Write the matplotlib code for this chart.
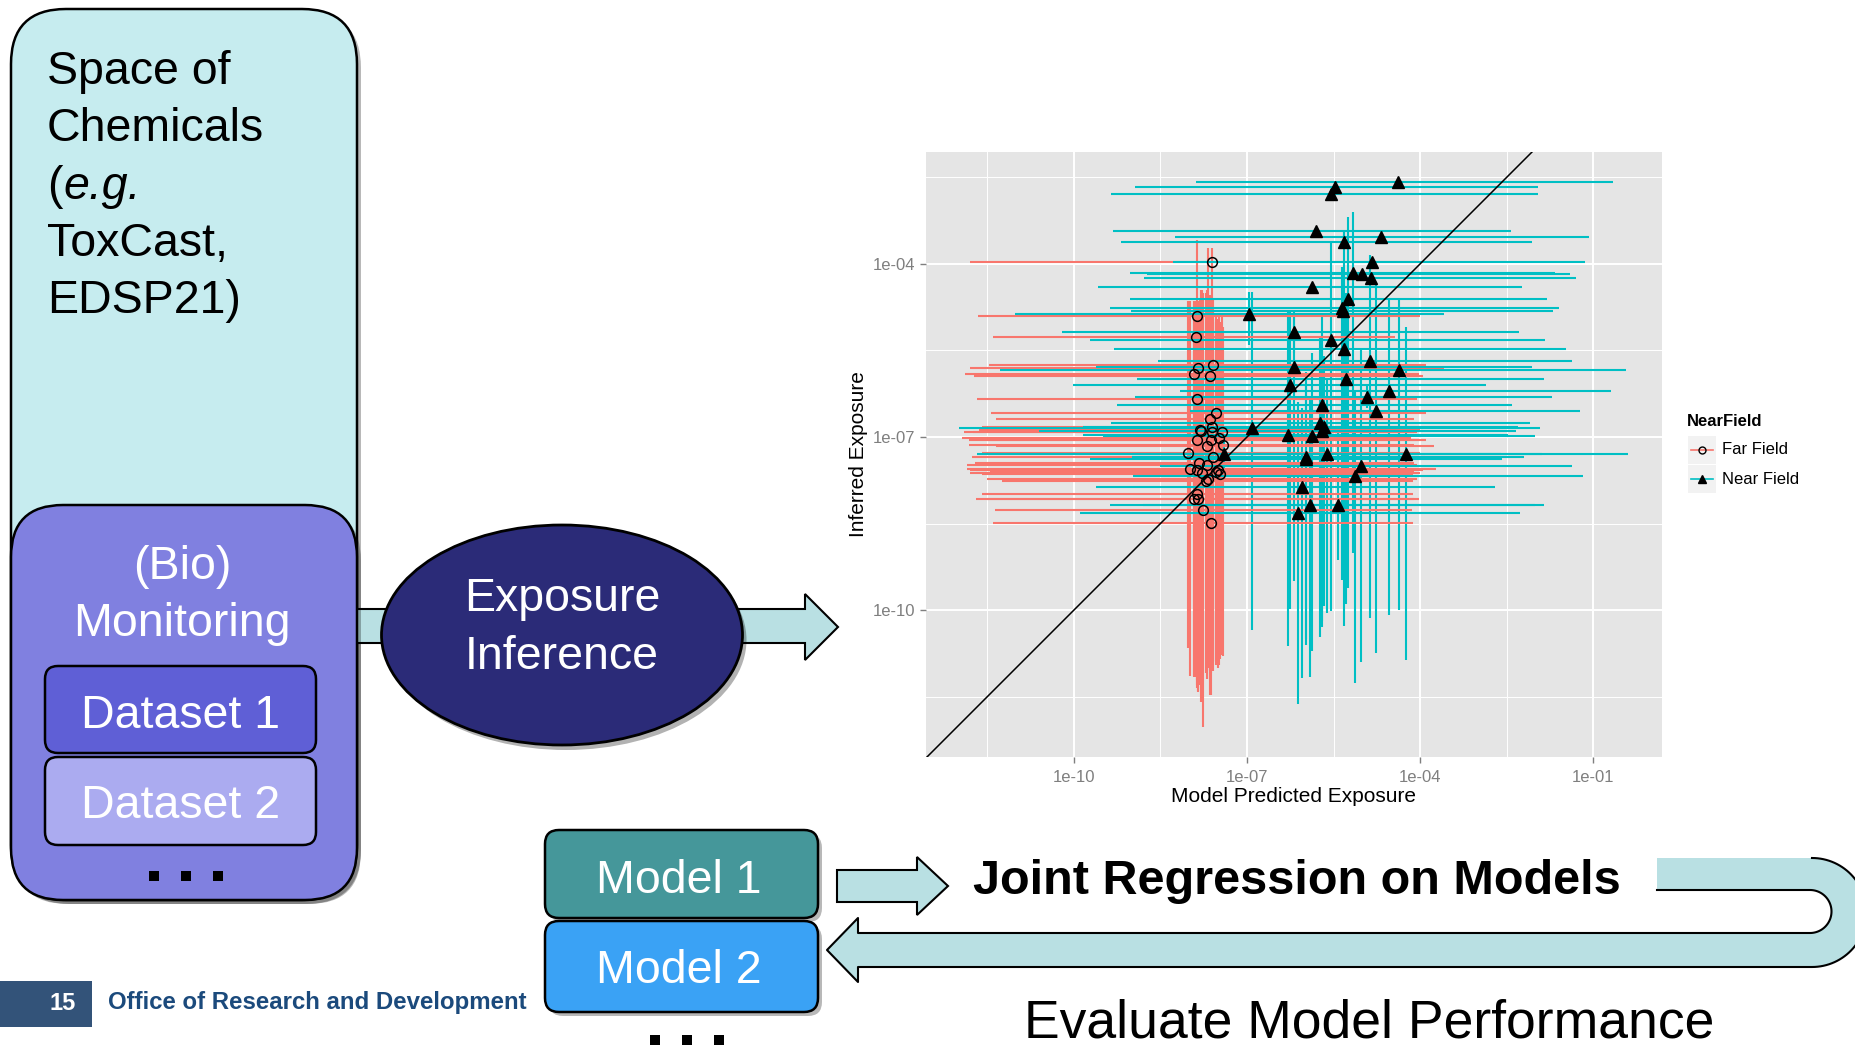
import numpy as np
import matplotlib
matplotlib.use("Agg")
import matplotlib.pyplot as plt
from matplotlib.patches import FancyBboxPatch, Ellipse, Polygon, Rectangle
from matplotlib.lines import Line2D
import matplotlib.ticker as mticker

plt.rcParams["font.family"] = ["Liberation Sans", "DejaVu Sans"]

# ---- exposure data: log10 values (point, lower / upper interval bounds) ----
far_x = [-7.60, -7.87, -7.88, -7.85, -7.59, -7.92, -7.64, -7.86, -7.53, -7.64,
         -7.61, -7.79, -7.61, -7.44, -7.86, -7.63, -7.49, -7.70, -7.41, -8.02,
         -7.59, -7.83, -7.69, -7.98, -7.86, -7.78, -7.54, -7.50, -7.47, -7.71,
         -7.67, -7.87, -7.92, -7.85, -7.76, -7.63, -7.82]
far_y = [-3.97, -4.91, -5.26, -5.80, -5.76, -5.91, -5.95, -6.34, -6.59, -6.69,
         -6.83, -6.89, -6.92, -6.91, -7.05, -7.05, -7.02, -7.16, -7.14, -7.28,
         -7.35, -7.45, -7.48, -7.55, -7.58, -7.63, -7.61, -7.58, -7.64, -7.77,
         -7.73, -7.98, -8.07, -8.07, -8.26, -8.49, -6.87]
far_xlo = [-11.80, -11.67, -11.40, -11.80, -11.47, -11.89, -11.73, -11.69, -11.44, -11.35,
           -11.60, -11.51, -11.90, -11.75, -11.82, -11.50, -11.95, -11.35, -11.82, -11.60,
           -11.77, -11.72, -11.85, -11.86, -11.80, -11.80, -11.45, -11.70, -11.60, -11.24,
           -11.50, -11.59, -11.51, -11.70, -11.37, -11.41, -11.65]
far_xhi = [-4.00, -4.00, -4.44, -3.59, -3.90, -4.02, -3.95, -4.05, -3.89, -4.10,
           -4.00, -3.95, -4.10, -4.05, -4.00, -3.90, -4.15, -3.75, -4.10, -4.00,
           -3.92, -4.10, -4.05, -3.72, -3.95, -4.00, -4.10, -4.20, -4.12, -4.12,
           -4.05, -4.13, -4.02, -4.10, -4.14, -4.13, -4.00]
far_ylo = [-11.00, -11.22, -11.17, -11.43, -11.05, -11.14, -11.48, -10.90, -10.88, -11.20,
           -11.05, -11.60, -10.90, -10.78, -11.00, -11.10, -10.95, -11.05, -10.79, -10.66,
           -10.90, -11.30, -11.20, -11.14, -11.30, -11.50, -10.95, -11.00, -10.85, -11.10,
           -11.00, -11.35, -11.17, -11.40, -12.03, -11.48, -11.30]
far_yhi = [-3.72, -3.59, -4.65, -4.66, -4.62, -4.65, -4.53, -4.70, -4.91, -4.80,
           -4.90, -4.45, -5.00, -4.91, -4.80, -4.70, -4.91, -4.45, -5.10, -4.65,
           -4.95, -4.65, -4.55, -4.65, -4.75, -4.45, -5.00, -4.95, -5.00, -4.50,
           -3.72, -4.80, -4.70, -4.80, -4.50, -4.60, -4.60]

near_x = [-4.38, -5.47, -5.55, -5.81, -4.67, -5.32, -4.83, -5.16, -5.00, -4.85,
          -5.87, -5.25, -5.35, -5.33, -6.97, -6.18, -5.55, -5.32, -4.86, -6.19,
          -4.37, -5.29, -6.25, -4.54, -4.92, -5.70, -4.77, -5.73, -6.91, -5.67,
          -5.70, -6.29, -5.88, -7.40, -5.62, -4.25, -5.97, -5.97, -5.03, -5.12,
          -6.04, -5.90, -5.43, -6.11]
near_y = [-2.58, -2.67, -2.79, -3.43, -3.53, -3.62, -3.96, -4.15, -4.17, -4.25,
          -4.40, -4.60, -4.76, -4.82, -4.87, -5.18, -5.31, -5.47, -5.68, -5.78,
          -5.84, -6.00, -6.09, -6.21, -6.30, -6.45, -6.55, -6.75, -6.84, -6.82,
          -6.90, -6.97, -6.99, -7.29, -7.29, -7.29, -7.35, -7.39, -7.50, -7.67,
          -7.87, -8.18, -8.18, -8.31]
near_xlo = [-7.89, -8.94, -9.36, -9.32, -8.25, -9.19, -8.28, -9.03, -8.73, -8.79,
            -9.58, -9.03, -9.38, -9.02, -11.02, -10.20, -9.72, -9.31, -8.55, -9.62,
            -11.28, -8.90, -10.02, -8.16, -8.94, -9.25, -7.99, -9.36, -11.99, -9.84,
            -10.61, -9.84, -9.50, -11.69, -9.00, -8.50, -9.00, -9.72, -8.51, -8.98,
            -9.61, -9.38, -8.80, -9.90]
near_xhi = [-0.66, -1.96, -1.95, -2.43, -1.07, -2.05, -1.14, -1.66, -1.40, -1.30,
            -2.24, -1.79, -1.59, -1.70, -3.59, -2.29, -1.84, -1.46, -1.37, -2.06,
            -0.43, -1.85, -2.85, -0.68, -1.72, -2.41, -1.23, -2.10, -1.92, -2.30,
            -2.33, -2.48, -2.00, -2.60, -1.89, -0.40, -2.20, -2.58, -1.37, -1.18,
            -2.70, -1.85, -2.00, -2.26]
near_ylo = [-2.62, -2.72, -2.85, -3.48, -3.58, -3.72, -4.02, -9.02, -4.25, -4.32,
            -4.46, -9.62, -9.48, -9.30, -5.40, -5.55, -10.02, -10.27, -10.14, -9.50,
            -10.00, -9.90, -9.98, -10.09, -6.50, -10.19, -10.74, -10.47, -10.34, -9.93,
            -10.29, -10.62, -10.71, -7.60, -10.05, -10.87, -10.60, -10.50, -10.91, -11.26,
            -11.18, -11.16, -9.13, -11.63]
near_yhi = [-2.54, -2.62, -2.74, -3.38, -3.48, -3.41, -3.90, -3.10, -4.10, -4.18,
            -4.34, -3.19, -4.05, -4.20, -4.48, -4.90, -3.64, -3.41, -3.84, -4.79,
            -4.63, -4.50, -4.79, -4.59, -6.10, -5.40, -4.34, -5.25, -4.48, -5.60,
            -4.91, -4.79, -5.54, -7.00, -6.00, -5.09, -5.88, -6.10, -5.48, -6.20,
            -6.50, -6.30, -6.90, -6.40]

x_tick_exp = [-10, -7, -4, -1]
x_tick_labels = ["1e-10", "1e-07", "1e-04", "1e-01"]
y_tick_exp = [-10, -7, -4]
y_tick_labels = ["1e-10", "1e-07", "1e-04"]
minor_exp = [-11.5, -8.5, -5.5, -2.5]
group_labels = ["Far Field", "Near Field"]

RED = "#F8766D"
TEAL = "#00BFC4"

W, H = 1856, 1049
fig = plt.figure(figsize=(W / 100, H / 100), dpi=100, facecolor="white")

# ---------------- slide canvas in pixel units ----------------
bg = fig.add_axes([0, 0, 1, 1])
bg.set_xlim(0, W)
bg.set_ylim(H, 0)
bg.axis("off")


def rbox(x0, y0, x1, y1, r, fc, z, lw=1.8, shadow=True):
    if shadow:
        bg.add_patch(FancyBboxPatch((x0 + 4, y0 + 4), x1 - x0, y1 - y0,
                                    boxstyle=f"round,pad=0,rounding_size={r}",
                                    fc="black", ec="none", alpha=0.28, zorder=z - 0.05))
    bg.add_patch(FancyBboxPatch((x0, y0), x1 - x0, y1 - y0,
                                boxstyle=f"round,pad=0,rounding_size={r}",
                                fc=fc, ec="black", lw=lw, zorder=z))


def squares(xs, y, s=10, z=5):
    for x in xs:
        bg.add_patch(Rectangle((x - s / 2, y - s / 2), s, s, fc="black", ec="none", zorder=z))


BOX_FS = 33.5

# Space of chemicals
rbox(11, 9, 357, 900, 55, "#C6ECEF", 1)
bg.text(47, 84, "Space of", fontsize=BOX_FS, va="baseline", ha="left", zorder=2)
bg.text(47, 141, "Chemicals", fontsize=BOX_FS, va="baseline", ha="left", zorder=2)
bg.text(47, 199, "(", fontsize=BOX_FS, va="baseline", ha="left", zorder=2)
bg.text(63, 199, "e.g.", fontsize=BOX_FS, style="italic", va="baseline", ha="left", zorder=2)
bg.text(47, 256, "ToxCast,", fontsize=BOX_FS, va="baseline", ha="left", zorder=2)
bg.text(47, 313, "EDSP21)", fontsize=BOX_FS, va="baseline", ha="left", zorder=2)

# (Bio) Monitoring block
rbox(11, 505, 357, 900, 52, "#8080E0", 3)
bg.text(182, 579, "(Bio)", fontsize=BOX_FS, color="white", ha="center", va="baseline", zorder=4)
bg.text(182, 636, "Monitoring", fontsize=BOX_FS, color="white", ha="center", va="baseline", zorder=4)
rbox(45, 666, 316, 753, 13, "#5F5FD6", 4, shadow=False)
bg.text(181, 728, "Dataset 1", fontsize=BOX_FS, color="white", ha="center", va="baseline", zorder=5)
rbox(45, 757, 316, 845, 13, "#ABABF0", 4, shadow=False)
bg.text(181, 818, "Dataset 2", fontsize=BOX_FS, color="white", ha="center", va="baseline", zorder=5)
squares([154, 186, 218], 876)

# Arrow through the Exposure Inference ellipse
bg.add_patch(Polygon([(356, 609), (805, 609), (805, 594), (838, 627), (805, 660), (805, 643), (356, 643)],
                     closed=True, fc="#B9E0E3", ec="black", lw=1.5, zorder=2))
bg.add_patch(Ellipse((566, 640), 361, 220, fc="black", ec="none", alpha=0.3, zorder=2.5))
bg.add_patch(Ellipse((562, 635), 361, 220, fc="#2B2B78", ec="black", lw=2, zorder=3))
bg.text(562, 611, "Exposure", fontsize=BOX_FS, color="white", ha="center", va="baseline", zorder=4)
bg.text(562, 669, "Inference", fontsize=BOX_FS, color="white", ha="center", va="baseline", zorder=4)

# Model blocks
rbox(545, 830, 818, 918, 14, "#45979A", 3)
bg.text(679, 893, "Model 1", fontsize=BOX_FS, color="white", ha="center", va="baseline", zorder=4)
rbox(545, 921, 818, 1012, 14, "#3AA2F5", 3)
bg.text(679, 983, "Model 2", fontsize=BOX_FS, color="white", ha="center", va="baseline", zorder=4)
squares([655, 687, 719], 1040)

# Arrow from models to joint regression
bg.add_patch(Polygon([(837, 870), (917, 870), (917, 857), (948, 886), (917, 915), (917, 902), (837, 902)],
                     closed=True, fc="#B9E0E3", ec="black", lw=1.5, zorder=2))

# U-turn arrow returning to the models
t_out = np.linspace(-np.pi / 2, np.pi / 2, 60)
outer = [(1812 + 54.5 * np.cos(t), 912.5 + 54.5 * np.sin(t)) for t in t_out]
inner = [(1810 + 21.5 * np.cos(t), 911.5 + 21.5 * np.sin(t)) for t in t_out[::-1]]
u_verts = ([(1657, 858)] + outer +
           [(858, 967), (858, 982), (827, 950), (858, 918), (858, 933)] +
           inner + [(1657, 890)])
bg.add_patch(Polygon(u_verts, closed=True, fc="#B9E0E3", ec="none", zorder=2))
ux, uy = zip(*u_verts[1:])
bg.add_line(Line2D(ux, uy, color="black", lw=1.5, zorder=2.1))

bg.text(1297, 894, "Joint Regression on Models", fontsize=35, fontweight="bold",
        ha="center", va="baseline", zorder=4)
bg.text(1369, 1037, "Evaluate Model Performance", fontsize=38.5,
        ha="center", va="baseline", zorder=4)

# Footer
bg.add_patch(Rectangle((0, 981), 92, 46, fc="#335379", ec="none", zorder=2))
bg.text(63, 1004, "15", fontsize=17, fontweight="bold", color="white", ha="center", va="center", zorder=3)
bg.text(108, 1003, "Office of Research and Development", fontsize=17.3, fontweight="bold",
        color="#1B4A7C", ha="left", va="center", zorder=3)

# Legend of the exposure chart
bg.text(1687, 421, "NearField", fontsize=12, fontweight="bold", ha="left", va="center")
for yc, col, mk, ms, mfc, lab in [(450, RED, "o", 5, "none", group_labels[0]),
                                  (479, TEAL, "^", 6, "black", group_labels[1])]:
    bg.add_patch(Rectangle((1688, yc - 14), 28, 28, fc="#F2F2F2", ec="none"))
    bg.plot([1691, 1713], [yc, yc], color=col, lw=1.2)
    bg.plot([1702], [yc], marker=mk, ms=ms, mfc=mfc, mec="black", mew=1.0, color="black")
    bg.text(1722, yc, lab, fontsize=12, ha="left", va="center")

# ---------------- exposure chart ----------------
L, R, T, B = 926, 1662, 152, 757
ax = fig.add_axes([L / W, 1 - B / H, (R - L) / W, (B - T) / H])
ax.set_facecolor("#E5E5E5")
ax.set_xscale("log")
ax.set_yscale("log")

p = lambda v: 10.0 ** np.asarray(v)

ax.vlines(p(far_x), p(far_ylo), p(far_yhi), colors=RED, lw=1.5, zorder=2)
ax.vlines(p(near_x), p(near_ylo), p(near_yhi), colors=TEAL, lw=1.5, zorder=2.1)
ax.hlines(p(far_y), p(far_xlo), p(far_xhi), colors=RED, lw=1.5, zorder=2.2)
ax.hlines(p(near_y), p(near_xlo), p(near_xhi), colors=TEAL, lw=1.5, zorder=2.3)
ax.plot(p(far_x), p(far_y), ls="none", marker="o", ms=7, mfc="none", mec="black", mew=1.1, zorder=3)
ax.plot(p(near_x), p(near_y), ls="none", marker="^", ms=8, mfc="black", mec="black", zorder=3)
ax.plot(p([-14, 1]), p([-14, 1]), color="black", lw=1.1, zorder=4)

ax.set_xlim(p(-12.566), p(0.196))
ax.set_ylim(p(-12.549), p(-2.058))
ax.xaxis.set_major_locator(mticker.FixedLocator(p(x_tick_exp)))
ax.xaxis.set_major_formatter(mticker.FixedFormatter(x_tick_labels))
ax.yaxis.set_major_locator(mticker.FixedLocator(p(y_tick_exp)))
ax.yaxis.set_major_formatter(mticker.FixedFormatter(y_tick_labels))
for a in (ax.xaxis, ax.yaxis):
    a.set_minor_locator(mticker.FixedLocator(p(minor_exp)))
    a.set_minor_formatter(mticker.NullFormatter())
ax.grid(which="major", color="white", lw=1.4)
ax.grid(which="minor", color="white", lw=0.7)
ax.set_axisbelow(True)
for s in ax.spines.values():
    s.set_visible(False)
ax.tick_params(which="major", length=4.5, width=1, color="#7F7F7F", labelcolor="#7F7F7F",
               labelsize=12, pad=3)
ax.tick_params(axis="x", which="major", pad=5)
ax.tick_params(which="minor", length=0)
ax.set_xlabel("Model Predicted Exposure", fontsize=15, labelpad=1)
ax.set_ylabel("Inferred Exposure", fontsize=15, labelpad=4)

fig.savefig("out.png", dpi=100, facecolor="white")
